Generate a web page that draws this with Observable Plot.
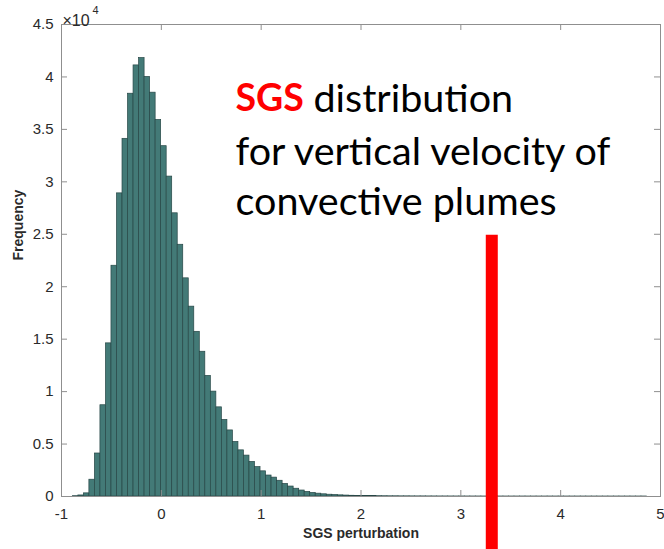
<!DOCTYPE html>
<html><head><meta charset="utf-8">
<script src="https://cdn.jsdelivr.net/npm/d3@7"></script>
<script src="https://cdn.jsdelivr.net/npm/@observablehq/plot@0.6"></script>
<style>
body{margin:0;background:#fff}
#chart{width:664px;height:549px;overflow:hidden}
</style>
</head><body><div id="chart"></div>
<script>
// Histogram structure
const binStart = -0.8866;
const binWidth = 0.0553;
// Frequencies in units of 10^4
const counts = [
  0.003, 0.010, 0.03, 0.16, 0.41, 0.87, 1.46, 2.20, 2.89, 3.41,
  3.84, 4.11, 4.18, 4.00, 3.85, 3.59, 3.34, 3.05, 2.70, 2.40,
  2.08, 1.81, 1.57, 1.38, 1.15, 1.00, 0.85, 0.73, 0.63, 0.52,
  0.44, 0.39, 0.33, 0.28, 0.24, 0.20, 0.18, 0.15, 0.12, 0.095,
  0.074, 0.057, 0.044, 0.034, 0.027, 0.021, 0.017, 0.014, 0.011, 0.009,
  0.007, 0.006, 0.005, 0.004, 0.0035, 0.003, 0.0025, 0.002, 0.002, 0.0015,
  0.0015, 0.0012, 0.001, 0.001, 0.0008, 0.0007, 0.0006, 0.0006, 0.0005, 0.0004,
  0.0004, 0.0003, 0.0003, 0.0003, 0.0002, 0.0002, 0.0002, 0.0002, 0.0001, 0.0001,
  0.0001, 0.0002, 0.0001, 0.0001, 0.0001, 0.0001, 0.0002, 0.0001, 0.0001, 0.0001,
  0.0001, 0.0001, 0.0001, 0.0001, 0.0001, 0.0001, 0.0001, 0.0001, 0.0001, 0.0001,
  0.0001, 0.0001, 0.0001, 0.0001
];
const xTicks = [-1, 0, 1, 2, 3, 4, 5];
const yTicks = [0, 0.5, 1, 1.5, 2, 2.5, 3, 3.5, 4, 4.5]; // x 10^4
const yMultiplier = 1e4;
const xLabel = "SGS perturbation";
const yLabel = "Frequency";
const noteRed = "SGS";
const noteLine1 = "distribution";
const noteRest = ["for vertical velocity of", "convective plumes"];
const markerX = 3.31;          // red marker line position
const markerTop = 2.49;        // x 10^4

const bins = counts.map((c, i) => ({
  x1: binStart + i * binWidth,
  x2: binStart + (i + 1) * binWidth,
  y: c * yMultiplier
}));

const W = 664, H = 549;
const mL = 61, mR = 4, mT = 24, mB = 53;
const pxX = 6 * 6 / (W - mL - mR);      // 6px tick in x units
const pxY = 6 * 45000 / (H - mT - mB);  // 6px tick in y units
const axisColor = "#8f8f8f";
const textColor = "#2a2a2a";
const font = "'Liberation Sans', Arial, sans-serif";
const noteFont = "Lato, 'Open Sans', sans-serif";

const plot = Plot.plot({
  width: W, height: H,
  marginLeft: mL, marginRight: mR, marginTop: mT, marginBottom: mB,
  style: {fontFamily: font, background: "#fff", overflow: "visible"},
  x: {domain: [-1, 5]},
  y: {domain: [0, 45000]},
  marks: [
    Plot.rectY(bins, {x1: "x1", x2: "x2", y: "y", fill: "#437a77", stroke: "#274746", strokeWidth: 0.7}),
    Plot.frame({stroke: axisColor, strokeWidth: 1}),
    // inward ticks
    Plot.ruleX(xTicks, {x: d => d, y1: 0, y2: pxY, stroke: axisColor}),
    Plot.ruleX(xTicks, {x: d => d, y1: 45000, y2: 45000 - pxY, stroke: axisColor}),
    Plot.ruleY(yTicks, {y: d => d * yMultiplier, x1: -1, x2: -1 + pxX, stroke: axisColor}),
    Plot.ruleY(yTicks, {y: d => d * yMultiplier, x1: 5, x2: 5 - pxX, stroke: axisColor}),
    Plot.axisX(xTicks, {tickSize: 0, tickPadding: 12, fontSize: 15, fill: textColor, tickFormat: d => String(d), label: null}),
    Plot.axisY(yTicks.map(d => d * yMultiplier), {tickSize: 0, tickPadding: 8, fontSize: 15, fill: textColor, tickFormat: d => String(d / yMultiplier), label: null}),
    // axis titles
    Plot.text([xLabel], {frameAnchor: "bottom", dy: 37, fontSize: 14, fontWeight: "bold", fill: textColor, lineAnchor: "middle"}),
    Plot.text([yLabel], {frameAnchor: "left", dx: -43, rotate: -90, fontSize: 14, fontWeight: "bold", fill: textColor}),
    // multiplier
    Plot.text(["×10"], {frameAnchor: "top-left", dx: 1, dy: -10, textAnchor: "start", fontSize: 16, fill: textColor}),
    Plot.text(["4"], {frameAnchor: "top-left", dx: 31, dy: -18, textAnchor: "start", fontSize: 11, fill: textColor}),
    // red marker
    Plot.ruleX([markerX], {x: d => d, y1: markerTop * yMultiplier, y2: -5300, stroke: "#ff0000", strokeWidth: 12}),
    // annotation
    Plot.text([noteRed], {frameAnchor: "top-left", dx: 174, dy: 60, lineAnchor: "top", textAnchor: "start", fontSize: 37.5, fontWeight: "bold", fill: "#ff0000", fontFamily: noteFont}),
    Plot.text([noteLine1], {frameAnchor: "top-left", dx: 252, dy: 59, lineAnchor: "top", textAnchor: "start", fontSize: 39.5, fill: "#000", fontFamily: noteFont}),
    Plot.text([noteRest.join("\n")], {frameAnchor: "top-left", dx: 174, dy: 105, lineAnchor: "top", lineHeight: 50/39.5, textAnchor: "start", fontSize: 39.5, fill: "#000", fontFamily: noteFont})
  ]
});
document.getElementById("chart").append(plot);
</script>
</body></html>
